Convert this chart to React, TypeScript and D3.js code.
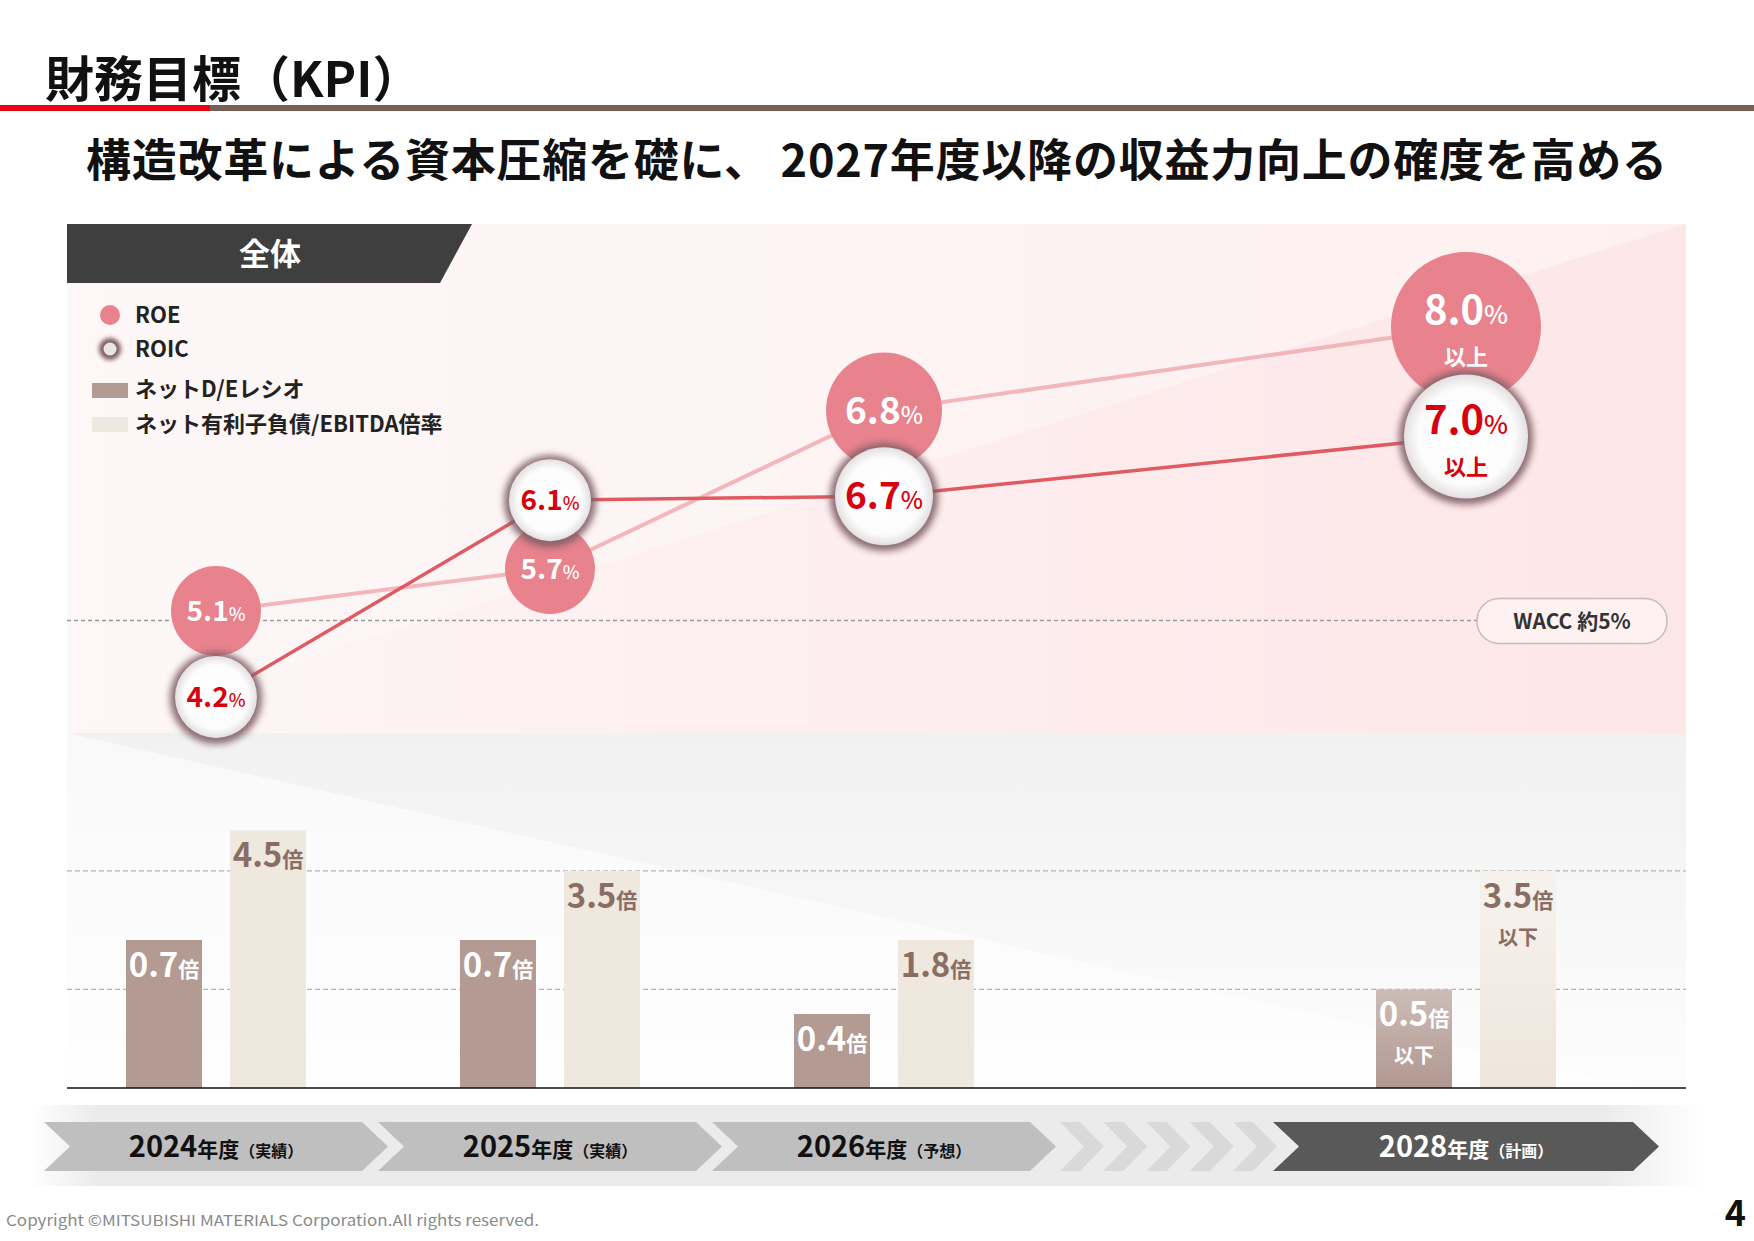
import { useEffect, useRef } from "react";
import * as d3 from "d3";

// KPI values by fiscal year
const years = [2024, 2025, 2026, 2028];
const yearStatus = ["実績", "実績", "予想", "計画"];
const roe = [5.1, 5.7, 6.8, 8.0];
const roic = [4.2, 6.1, 6.7, 7.0];
const rateQualifier = ["", "", "", "以上"];
const netDE = [0.7, 0.7, 0.4, 0.5];
const netDebtEbitda = [4.5, 3.5, 1.8, 3.5];
const ratioQualifier = ["", "", "", "以下"];
const wacc = 5;
const deTarget = 0.5;
const ebitdaTarget = 3.5;
const legendLabels = ["ROE", "ROIC", "ネットD/Eレシオ", "ネット有利子負債/EBITDA倍率"];

const W = 1754;
const H = 1241;
const FONT = "'Noto Sans CJK JP', 'Noto Sans', sans-serif";

const panel = { left: 67, right: 1686, top: 224, mid: 733, base: 1088 };

// bubble radius / label size per year status
const bubbleStyle = {
  実績: { roe: 45, roic: 41, font: 28 },
  予想: { roe: 58, roic: 49, font: 37 },
  計画: { roe: 75, roic: 62, font: 40 },
};

const C = {
  roe: "#e8828c",
  roeLine: "#f3b6bb",
  roicLine: "#e05a62",
  roicText: "#d7000f",
  halo: "#7f5e66",
  de: "#b39a93",
  eb: "#efe8df",
  ebText: "#8a6d63",
  dark: "#3f3f3f",
};

export default function App() {
  const ref = useRef(null);

  useEffect(() => {
    document.body.style.margin = "0";
    document.body.style.overflow = "hidden";

    const svg = d3.select(ref.current);
    svg.selectAll("*").remove();
    svg.attr("font-family", FONT);

    const defs = svg.append("defs");
    const linGrad = (id, x2, y2, stops) => {
      const g = defs
        .append("linearGradient")
        .attr("id", id)
        .attr("x1", 0)
        .attr("y1", 0)
        .attr("x2", x2)
        .attr("y2", y2);
      stops.forEach(([o, c, a]) =>
        g.append("stop").attr("offset", o).attr("stop-color", c).attr("stop-opacity", a ?? 1),
      );
    };
    linGrad("pinkBg", 1, 0, [[0, "#fdf7f7"], [1, "#fdf0f0"]]);
    linGrad("pinkWedge", 1, 0, [[0, "#fde8ea", 0], [0.6, "#fde8ea", 0.6], [1, "#fde6e8", 1]]);
    linGrad("grayBg", 0, 1, [[0, "#f1f1f1"], [1, "#fdfdfd"]]);
    linGrad("band", 1, 0, [
      [0, "#ebebeb", 0],
      [0.04, "#ebebeb", 1],
      [0.93, "#ebebeb", 1],
      [0.99, "#ebebeb", 0],
    ]);
    linGrad("planDE", 0, 1, [[0, "#cdbcb6"], [1, "#b09891"]]);
    linGrad("planEB", 0, 1, [[0, "#f6f2ed"], [1, "#eee6dc"]]);

    const rg = defs.append("radialGradient").attr("id", "roicFill");
    rg.append("stop").attr("offset", 0).attr("stop-color", "#ffffff");
    rg.append("stop").attr("offset", 0.78).attr("stop-color", "#fcfcfc");
    rg.append("stop").attr("offset", 1).attr("stop-color", "#e3dfe0");

    const blur = (id, sd) =>
      defs
        .append("filter")
        .attr("id", id)
        .attr("x", "-40%")
        .attr("y", "-40%")
        .attr("width", "180%")
        .attr("height", "180%")
        .append("feGaussianBlur")
        .attr("stdDeviation", sd);
    blur("halo", 3.5);
    blur("haloSmall", 2);

    // ---- header ----
    svg
      .append("text")
      .attr("x", 45)
      .attr("y", 97)
      .attr("font-size", 49)
      .attr("font-weight", 700)
      .attr("fill", "#111")
      .text("財務目標（KPI）");
    svg.append("rect").attr("x", 0).attr("y", 105).attr("width", W).attr("height", 6).attr("fill", "#7b5f55");
    svg.append("rect").attr("x", 0).attr("y", 105).attr("width", 210).attr("height", 6).attr("fill", "#e60012");
    svg
      .append("text")
      .attr("x", 86)
      .attr("y", 177)
      .attr("font-size", 45)
      .attr("font-weight", 700)
      .attr("fill", "#111")
      .attr("textLength", 1581)
      .attr("lengthAdjust", "spacing")
      .text("構造改革による資本圧縮を礎に、 2027年度以降の収益力向上の確度を高める");

    // ---- backgrounds ----
    const pw = panel.right - panel.left;
    svg
      .append("rect")
      .attr("x", panel.left)
      .attr("y", panel.top)
      .attr("width", pw)
      .attr("height", panel.mid - panel.top)
      .attr("fill", "url(#pinkBg)");
    svg
      .append("polygon")
      .attr("points", [
        [panel.left, panel.mid],
        [panel.right, panel.top],
        [panel.right, panel.mid],
      ].join(" "))
      .attr("fill", "url(#pinkWedge)");
    svg
      .append("rect")
      .attr("x", panel.left)
      .attr("y", panel.mid)
      .attr("width", pw)
      .attr("height", panel.base - panel.mid)
      .attr("fill", "url(#grayBg)");
    svg
      .append("polygon")
      .attr("points", [
        [panel.left, panel.mid],
        [panel.right, panel.base + 10],
        [panel.left, panel.base],
      ].join(" "))
      .attr("fill", "#ffffff")
      .attr("opacity", 0.55);

    // ---- scales ----
    const x = d3.scaleLinear().domain([2024, 2026, 2028]).range([216, 884, 1466]);
    const y = d3.scaleLinear().domain([4, 8]).range([716, 334]);
    const deY = d3.scaleLinear().domain([0.1, 1]).range([panel.base, panel.base - 222]);
    const ebY = d3.scaleLinear().domain([0, 5]).range([panel.base - 75, panel.base - 278]);

    // ---- section tag ----
    svg
      .append("polygon")
      .attr("points", [[panel.left, 224], [472, 224], [440, 283], [panel.left, 283]].join(" "))
      .attr("fill", C.dark);
    svg
      .append("text")
      .attr("x", 270)
      .attr("y", 265)
      .attr("text-anchor", "middle")
      .attr("font-size", 31)
      .attr("font-weight", 700)
      .attr("fill", "#fff")
      .text("全体");

    // ---- legend ----
    const lg = svg.append("g").attr("font-size", 22).attr("font-weight", 700).attr("fill", "#222");
    lg.append("circle").attr("cx", 110).attr("cy", 315).attr("r", 10).attr("fill", C.roe);
    lg.append("circle").attr("cx", 110).attr("cy", 349).attr("r", 11).attr("fill", C.halo).attr("filter", "url(#haloSmall)");
    lg.append("circle").attr("cx", 110).attr("cy", 349).attr("r", 6.5).attr("fill", "#e9e6e7");
    lg.append("rect").attr("x", 92).attr("y", 383).attr("width", 36).attr("height", 15).attr("fill", C.de);
    lg.append("rect").attr("x", 92).attr("y", 417).attr("width", 36).attr("height", 15).attr("fill", C.eb);
    [323, 357, 397, 432].forEach((ty, i) =>
      lg.append("text").attr("x", 135).attr("y", ty).text(legendLabels[i]),
    );

    // ---- WACC reference ----
    const wy = y(wacc);
    svg
      .append("line")
      .attr("x1", panel.left)
      .attr("x2", 1477)
      .attr("y1", wy)
      .attr("y2", wy)
      .attr("stroke", "#9a9a9a")
      .attr("stroke-width", 1.3)
      .attr("stroke-dasharray", "4 3");
    svg
      .append("rect")
      .attr("x", 1477)
      .attr("y", wy - 22)
      .attr("width", 190)
      .attr("height", 45)
      .attr("rx", 22)
      .attr("fill", "#fdf1f2")
      .attr("stroke", "#c9b9ba")
      .attr("stroke-width", 1.5);
    svg
      .append("text")
      .attr("x", 1572)
      .attr("y", wy + 8)
      .attr("text-anchor", "middle")
      .attr("font-size", 21)
      .attr("font-weight", 700)
      .attr("fill", "#333")
      .text(`WACC 約${wacc}%`);

    // ---- ROE / ROIC positions, nudged apart where the bubbles collide ----
    const pts = years.map((yr, i) => {
      const st = bubbleStyle[yearStatus[i]];
      let yR = y(roe[i]);
      let yC = y(roic[i]);
      const minGap = 0.8 * (st.roe + st.roic);
      if (Math.abs(yR - yC) < minGap) {
        const mid = (yR + yC) / 2;
        const dir = roe[i] >= roic[i] ? -1 : 1;
        yR = mid + (dir * minGap) / 2;
        yC = mid - (dir * minGap) / 2;
      }
      return { cx: x(yr), yR, yC, st, i };
    });

    const line = d3.line();
    svg
      .append("path")
      .attr("d", line(pts.map((p) => [p.cx, p.yR])))
      .attr("fill", "none")
      .attr("stroke", C.roeLine)
      .attr("stroke-width", 4);
    svg
      .append("path")
      .attr("d", line(pts.map((p) => [p.cx, p.yC])))
      .attr("fill", "none")
      .attr("stroke", C.roicLine)
      .attr("stroke-width", 3.5);

    const rateLabel = (g, cx, cy, value, size, color, qualifier) => {
      const two = !!qualifier;
      const t = g
        .append("text")
        .attr("x", cx)
        .attr("y", two ? cy - 3 : cy + size * 0.36)
        .attr("text-anchor", "middle")
        .attr("font-weight", 700)
        .attr("fill", color);
      t.append("tspan").attr("font-size", size).text(value.toFixed(1));
      t.append("tspan").attr("font-size", size * 0.64).attr("font-weight", 500).text("%");
      if (two) {
        g.append("text")
          .attr("x", cx)
          .attr("y", cy + 38)
          .attr("text-anchor", "middle")
          .attr("font-size", 22)
          .attr("font-weight", 700)
          .attr("fill", color)
          .text(qualifier);
      }
    };

    const bubbles = svg.append("g");
    pts.forEach((p) => {
      const g = bubbles.append("g");
      g.append("circle").attr("cx", p.cx).attr("cy", p.yR).attr("r", p.st.roe).attr("fill", C.roe);
      rateLabel(g, p.cx, p.yR, roe[p.i], p.st.font, "#fff", rateQualifier[p.i]);

      g.append("circle")
        .attr("cx", p.cx)
        .attr("cy", p.yC + 1)
        .attr("r", p.st.roic + 5)
        .attr("fill", C.halo)
        .attr("opacity", 0.9)
        .attr("filter", "url(#halo)");
      g.append("circle").attr("cx", p.cx).attr("cy", p.yC).attr("r", p.st.roic).attr("fill", "url(#roicFill)");
      rateLabel(g, p.cx, p.yC, roic[p.i], p.st.font, C.roicText, rateQualifier[p.i]);
    });

    // ---- leverage bars ----
    const bw = 76;
    [deY(deTarget), ebY(ebitdaTarget)].forEach((gy) =>
      svg
        .append("line")
        .attr("x1", panel.left)
        .attr("x2", panel.right)
        .attr("y1", gy)
        .attr("y2", gy)
        .attr("stroke", "#b5b5b5")
        .attr("stroke-width", 1.1)
        .attr("stroke-dasharray", "5 3"),
    );

    const ratioLabel = (cx, top, value, color, qualifier) => {
      const t = svg
        .append("text")
        .attr("x", cx)
        .attr("y", top + 37)
        .attr("text-anchor", "middle")
        .attr("font-weight", 700)
        .attr("fill", color);
      t.append("tspan").attr("font-size", 33).text(value.toFixed(1));
      t.append("tspan").attr("font-size", 21).text("倍");
      if (qualifier) {
        svg
          .append("text")
          .attr("x", cx)
          .attr("y", top + 74)
          .attr("text-anchor", "middle")
          .attr("font-size", 20)
          .attr("font-weight", 700)
          .attr("fill", color)
          .text(qualifier);
      }
    };

    years.forEach((yr, i) => {
      const cx = x(yr);
      const plan = yearStatus[i] === "計画";
      const deTop = deY(netDE[i]);
      const ebTop = ebY(netDebtEbitda[i]);
      svg
        .append("rect")
        .attr("x", cx - 14 - bw)
        .attr("y", deTop)
        .attr("width", bw)
        .attr("height", panel.base - deTop)
        .attr("fill", plan ? "url(#planDE)" : C.de);
      svg
        .append("rect")
        .attr("x", cx + 14)
        .attr("y", ebTop)
        .attr("width", bw)
        .attr("height", panel.base - ebTop)
        .attr("fill", plan ? "url(#planEB)" : C.eb);
      ratioLabel(cx - 14 - bw / 2, deTop, netDE[i], "#fff", ratioQualifier[i]);
      ratioLabel(cx + 14 + bw / 2, ebTop, netDebtEbitda[i], C.ebText, ratioQualifier[i]);
    });

    svg
      .append("line")
      .attr("x1", panel.left)
      .attr("x2", panel.right)
      .attr("y1", panel.base)
      .attr("y2", panel.base)
      .attr("stroke", "#111")
      .attr("stroke-width", 1.6);

    // ---- timeline chevrons ----
    svg.append("rect").attr("x", 30).attr("y", 1105).attr("width", 1690).attr("height", 81).attr("fill", "url(#band)");
    const cTop = 1122;
    const cBot = 1171;
    const cMid = (cTop + cBot) / 2;
    const chevron = (x0, x1, d) =>
      [[x0, cTop], [x1, cTop], [x1 + d, cMid], [x1, cBot], [x0, cBot], [x0 + d, cMid]].join(" ");

    const gap0 = x(2026) + 172;
    const gap1 = x(2028) - 193;
    d3.range(5).forEach((k) => {
      const sx = gap0 + 4 + k * ((gap1 - gap0 - 44) / 4);
      svg.append("polygon").attr("points", chevron(sx, sx + 20, 24)).attr("fill", "#d9d9d9");
    });

    years.forEach((yr, i) => {
      const cx = x(yr);
      const plan = yearStatus[i] === "計画";
      const half = plan ? 193 : 172;
      svg
        .append("polygon")
        .attr("points", chevron(cx - half, cx + half - 26, 26))
        .attr("fill", plan ? "#595959" : "#bfbfbf");
      const t = svg
        .append("text")
        .attr("x", cx)
        .attr("y", 1157)
        .attr("text-anchor", "middle")
        .attr("font-weight", 700)
        .attr("fill", plan ? "#fff" : "#111");
      t.append("tspan").attr("font-size", 29).text(String(yr));
      t.append("tspan").attr("font-size", 21).text("年度");
      t.append("tspan").attr("font-size", 16).text(`（${yearStatus[i]}）`);
    });

    // ---- footer ----
    svg
      .append("text")
      .attr("x", 6)
      .attr("y", 1226)
      .attr("font-size", 15)
      .attr("fill", "#8a8a8a")
      .attr("textLength", 533)
      .attr("lengthAdjust", "spacingAndGlyphs")
      .text("Copyright ©MITSUBISHI MATERIALS Corporation.All rights reserved.");
    svg
      .append("text")
      .attr("x", 1746)
      .attr("y", 1226)
      .attr("text-anchor", "end")
      .attr("font-size", 36)
      .attr("font-weight", 700)
      .attr("fill", "#111")
      .text("4");
  }, []);

  return <svg ref={ref} width={W} height={H} style={{ display: "block", background: "#fff" }} />;
}
